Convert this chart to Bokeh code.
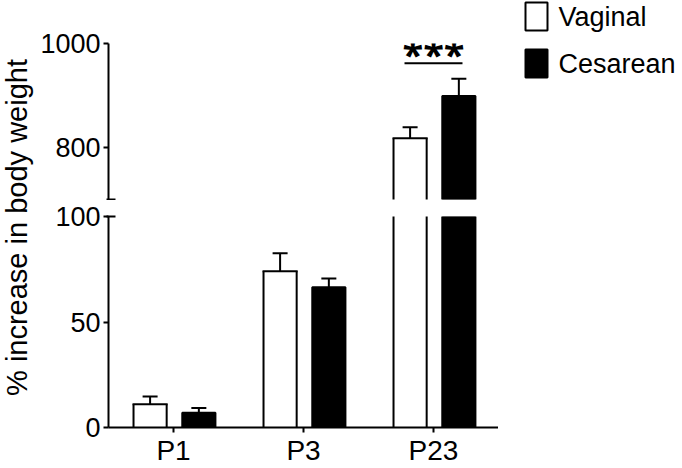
import math
from bokeh.plotting import figure
from bokeh.models import ColumnDataSource, FactorRange, FixedTicker, Whisker, TeeHead, Label, Range1d
from bokeh.transform import dodge
from bokeh.layouts import row, column
from bokeh.core.properties import value
from bokeh.embed import file_html
from bokeh.resources import INLINE

# ---------------- data ----------------
ages = ["P1", "P3", "P23"]
vaginal = [11.0, 74.0, 818.0]
vaginal_err = [3.7, 8.6, 21.0]
cesarean = [7.0, 66.5, 899.0]
cesarean_err = [2.3, 4.1, 33.0]
series = ["Vaginal", "Cesarean"]
series_fill = ["white", "black"]
lower_ticks = [0, 50, 100]
upper_ticks = [800, 1000]
axis_break = (100, 700)          # lower segment ends / upper segment starts
upper_end = 1000
significance = "***"
sig_pair = "P23"
sig_line_value = 962
sig_text_value = 979
y_title = "% increase in body weight"

FONT = "Liberation Sans"

src = ColumnDataSource(dict(
    age=ages, vag=vaginal, ces=cesarean,
    vag_hi=[v + e for v, e in zip(vaginal, vaginal_err)],
    ces_hi=[v + e for v, e in zip(cesarean, cesarean_err)],
))


def subset(keep):
    d = {k: [val for val, m in zip(v, keep) if m] for k, v in src.data.items()}
    return ColumnDataSource(d)


in_lower = [max(a, b) < axis_break[0] for a, b in zip(vaginal, cesarean)]
lower_src = subset(in_lower)
upper_src = subset([not m for m in in_lower])

x_range = FactorRange(factors=ages, range_padding=0)
DV, DC, W = -0.18, 0.195, 0.255


def style_y(p, ticks, minor):
    ax = p.yaxis[0]
    ax.ticker = FixedTicker(ticks=ticks, minor_ticks=minor)
    ax.axis_line_width = 2
    ax.major_tick_line_width = 2
    ax.minor_tick_line_width = 2
    ax.major_tick_out = 5
    ax.major_tick_in = 0
    ax.minor_tick_out = 2
    ax.minor_tick_in = 7
    ax.major_label_text_font = FONT
    ax.major_label_text_font_size = "27px"
    ax.major_label_text_color = "black"
    ax.major_label_standoff = 3
    p.xgrid.visible = False
    p.ygrid.visible = False


def draw(p, bar_src, cap_src):
    xr = p.x_range
    p.vbar(x=dodge("age", DV, range=xr), top="vag", bottom=0, width=W, source=bar_src,
           fill_color="white", line_color=None)
    p.vbar(x=dodge("age", DC, range=xr), top="ces", bottom=0, width=W, source=bar_src,
           fill_color="black", line_color="black", line_width=2)
    for off in (DV - W / 2, DV + W / 2):
        p.segment(x0=dodge("age", off, range=xr), x1=dodge("age", off, range=xr),
                  y0=0, y1="vag", source=bar_src, line_color="black", line_width=2)
    p.segment(x0=dodge("age", DV - W / 2, range=xr), x1=dodge("age", DV + W / 2, range=xr),
              y0="vag", y1="vag", source=cap_src, line_color="black", line_width=2,
              line_cap="square")
    for off, lo, hi in ((DV, "vag", "vag_hi"), (DC, "ces", "ces_hi")):
        p.add_layout(Whisker(base=dodge("age", off, range=xr), lower=lo, upper=hi,
                             source=cap_src, dimension="height", line_width=2, line_color="black",
                             upper_head=TeeHead(size=15, line_width=2, line_color="black"),
                             lower_head=None))


H = 468
LEFT = 34          # width of the y-title strip
FRAME_L = 108      # y axis position
FRAME_R = 498      # end of x axis
TOP_H = 200
MAIN_W = FRAME_R - LEFT
LEG_W = 682 - FRAME_R

# ---------------- upper segment ----------------
top = figure(x_range=x_range, y_range=(axis_break[1], upper_end),
             width=MAIN_W, height=TOP_H,
             toolbar_location=None, output_backend="svg", x_axis_location=None,
             min_border_left=FRAME_L - LEFT, min_border_right=0, min_border_top=43,
             min_border_bottom=1, outline_line_color=None)
style_y(top, upper_ticks, [axis_break[1]])
draw(top, upper_src, upper_src)

sig_src = ColumnDataSource(dict(age=[sig_pair], y=[sig_line_value], ty=[sig_text_value],
                                txt=[significance]))
top.segment(x0=dodge("age", -0.223, range=x_range), x1=dodge("age", 0.223, range=x_range),
            y0="y", y1="y", source=sig_src, line_color="black", line_width=2)
top.text(x="age", y="ty", text="txt", source=sig_src, text_font=value("Open Sans"),
         text_font_style="bold", text_font_size="38px", text_align="center",
         text_baseline="middle", text_color="black")

# ---------------- lower segment ----------------
bottom = figure(x_range=x_range, y_range=(0, axis_break[0]), width=MAIN_W,
                height=H - TOP_H, toolbar_location=None, output_backend="svg",
                min_border_left=FRAME_L - LEFT, min_border_right=0,
                min_border_top=16, min_border_bottom=37, outline_line_color=None)
style_y(bottom, lower_ticks, [axis_break[0]])
draw(bottom, src, lower_src)
xa = bottom.xaxis[0]
xa.axis_line_width = 2
xa.major_tick_line_width = 2
xa.major_tick_out = 5
xa.major_tick_in = 0
xa.major_label_text_font = FONT
xa.major_label_text_font_size = "28px"
xa.major_label_text_color = "black"
xa.major_label_standoff = 2

# ---------------- legend strip ----------------
legfig = figure(width=LEG_W, height=H, toolbar_location=None, output_backend="svg",
                x_axis_type=None, y_axis_type=None, min_border=0, outline_line_color=None,
                x_range=Range1d(0, LEG_W), y_range=Range1d(H, 0))
leg_rows = [16 + 47 * i for i in range(len(series))]
leg_src = ColumnDataSource(dict(label=series, fill=series_fill, y=leg_rows))
legfig.rect(x=38, y="y", width=22, height=28, width_units="screen", height_units="screen",
            source=leg_src, fill_color="fill", line_color="black", line_width=2)
legfig.text(x=60, y="y", text="label", source=leg_src, text_font=value(FONT),
            text_font_size="27px", text_baseline="middle", text_align="left",
            text_color="black")

# ---------------- y title ----------------
ylab = figure(width=LEFT, height=H, toolbar_location=None, output_backend="svg",
              x_axis_type=None, y_axis_type=None, min_border=0, outline_line_color=None,
              x_range=(0, 1), y_range=(0, 1))
ylab.add_layout(Label(x=16, y=241, x_units="screen", y_units="screen", text=y_title,
                      angle=math.pi / 2, text_align="center", text_baseline="middle",
                      text_font=FONT, text_font_size="29px", text_color="black"))

layout = row(ylab, column(top, bottom, spacing=0), legfig, spacing=0)
open("out.html", "w").write(file_html(layout, INLINE))
